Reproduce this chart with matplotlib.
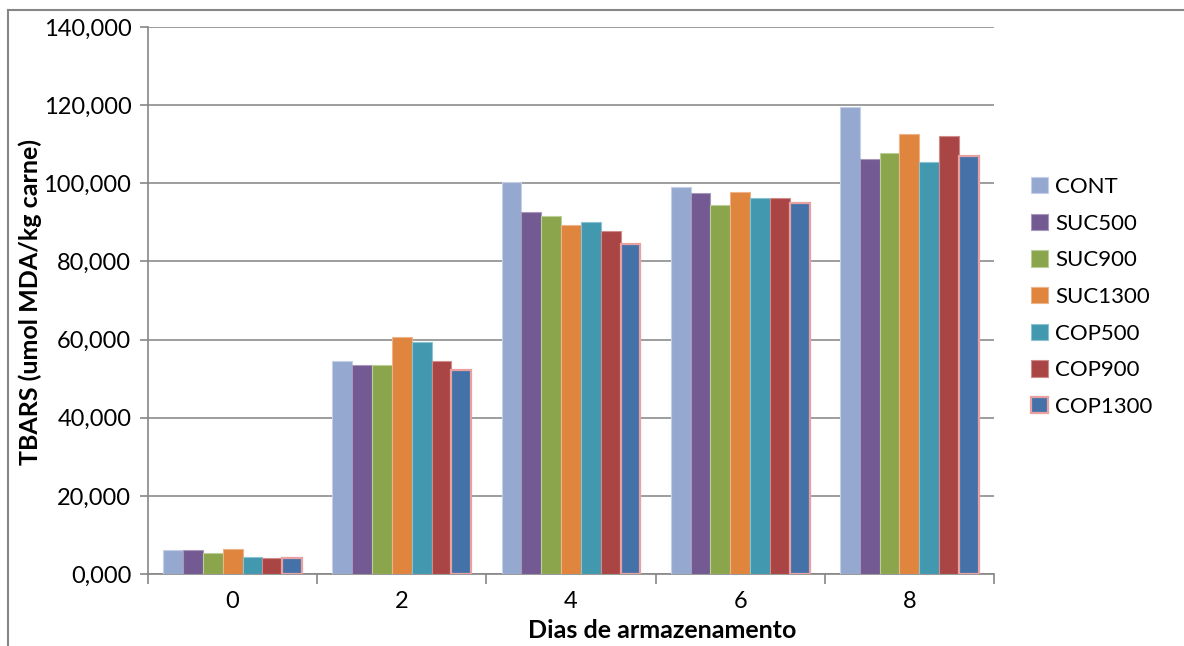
import matplotlib
matplotlib.use("Agg")
import matplotlib.pyplot as plt
import numpy as np
from matplotlib.lines import Line2D
from matplotlib.ticker import FuncFormatter, FixedLocator

plt.rcParams['font.family'] = ['Lato', 'DejaVu Sans']

days = ["0", "2", "4", "6", "8"]
treatments = ["CONT", "SUC500", "SUC900", "SUC1300", "COP500", "COP900", "COP1300"]

cont = [6.1, 54.5, 100.4, 99.1, 119.4]
suc500 = [6.1, 53.6, 92.7, 97.5, 106.1]
suc900 = [5.5, 53.4, 91.7, 94.4, 107.8]
suc1300 = [6.3, 60.7, 89.3, 97.8, 112.6]
cop500 = [4.3, 59.4, 90.0, 96.2, 105.5]
cop900 = [4.1, 54.5, 87.7, 96.2, 112.1]
cop1300 = [4.0, 52.1, 84.4, 95.0, 107.0]

series = [cont, suc500, suc900, suc1300, cop500, cop900, cop1300]
colors = ["#95A9D0", "#735A92", "#8AA54C", "#DF853E", "#4198AF", "#A94645", "#4472A8"]
edges = ["#C5D0E6", "#A898BC", "#BCCF98", "#EDB48A", "#8CC3D2", "#CF8C8B", "#E8A0A0"]
edge_w = [0.8, 0.8, 0.8, 0.8, 0.8, 0.8, 1.6]

fig = plt.figure(figsize=(11.84, 6.46), dpi=100)
ax = fig.add_axes([148 / 1184, 1 - 574 / 646, (994 - 148) / 1184, (574 - 27) / 646])

x = np.arange(len(days))
n = len(series)
bw = 0.82 / n
for i, (vals, c, ec, lw) in enumerate(zip(series, colors, edges, edge_w)):
    ax.bar(x - 0.41 + bw * (i + 0.5), vals, width=bw, color=c, edgecolor=ec,
           linewidth=lw, label=treatments[i], zorder=3)

ax.set_xlim(-0.5, len(days) - 0.5)
ax.set_ylim(0, 140)
ax.set_yticks(np.arange(0, 141, 20))


def yfmt(v, p):
    # decimal comma with three decimals, e.g. 20,000
    return f"{v:.3f}".replace(".", ",")


ax.yaxis.set_major_formatter(FuncFormatter(yfmt))

# tick marks sit between the day groups, labels sit under each group
ax.xaxis.set_major_locator(FixedLocator(np.arange(-0.5, len(days), 1.0)))
ax.xaxis.set_minor_locator(FixedLocator(x))
ax.set_xticklabels([])
ax.set_xticklabels(days, minor=True)
ax.tick_params(axis='x', which='major', length=7, width=1.2, color='#868686', direction='out')
ax.tick_params(axis='x', which='minor', length=0, labelsize=17, pad=12)
ax.tick_params(axis='y', length=6, width=1.2, color='#868686', direction='out',
               labelsize=17, pad=6)

ax.grid(axis='y', color='#8C8C8C', linewidth=1.2, zorder=0)
for s in ['top', 'right']:
    ax.spines[s].set_visible(False)
for s in ['left', 'bottom']:
    ax.spines[s].set_color('#868686')
    ax.spines[s].set_linewidth(1.2)

fig.text(30 / 1184, 1 - 302 / 646, "TBARS (umol MDA/kg carne)", rotation=90,
         fontsize=18, fontweight='bold', ha='center', va='center')
fig.text(662 / 1184, 1 - 631 / 646, "Dias de armazenamento", fontsize=18,
         fontweight='bold', ha='center', va='center')

fig.legend(loc='upper left', bbox_to_anchor=(1022 / 1184, 1 - 168 / 646), frameon=False,
           fontsize=16, handlelength=0.75, handleheight=0.75, handletextpad=0.35,
           labelspacing=0.75, borderaxespad=0)

# chart frame on the left and top edges
fig.add_artist(Line2D([7.5 / 1184, 7.5 / 1184], [0, 1 - 9.5 / 646],
                      transform=fig.transFigure, color='#868686', linewidth=1.5))
fig.add_artist(Line2D([7.5 / 1184, 1], [1 - 9.5 / 646, 1 - 9.5 / 646],
                      transform=fig.transFigure, color='#868686', linewidth=1.5))

fig.savefig("out.png", dpi=100)
